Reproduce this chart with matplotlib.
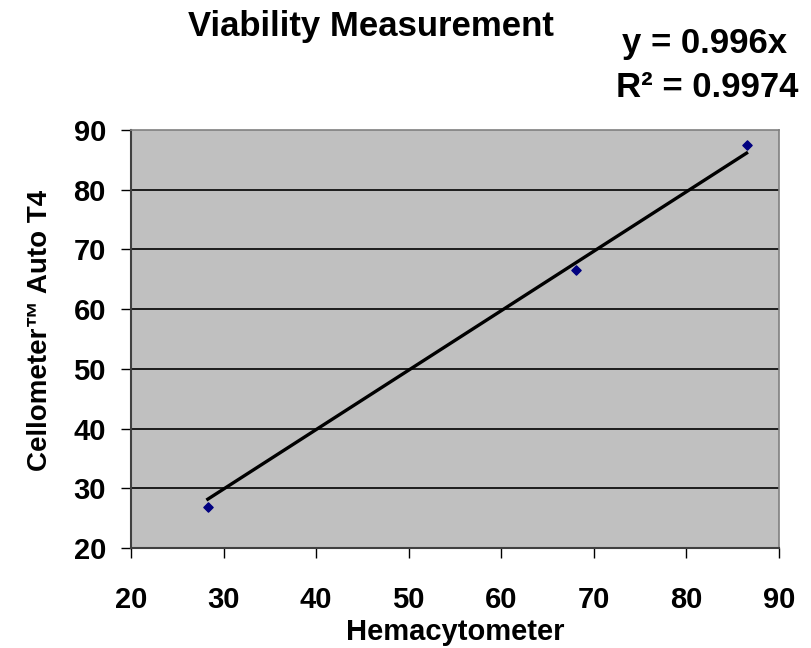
import numpy as np
import matplotlib
matplotlib.use("Agg")
import matplotlib.pyplot as plt

#%% data
hemacytometer = [28.3, 68.1, 86.5]
cellometer = [26.9, 66.6, 87.5]
x_ticks = [20, 30, 40, 50, 60, 70, 80, 90]
y_ticks = [20, 30, 40, 50, 60, 70, 80, 90]

plt.rcParams['font.family'] = ['Liberation Sans', 'DejaVu Sans']
plt.rcParams['font.weight'] = 'bold'

#%% linear trend through origin
x = np.array(hemacytometer)
y = np.array(cellometer)
slope = np.sum(x * y) / np.sum(x * x)
x_fit = np.array([x.min(), x.max()])

fig = plt.figure(figsize=(8.11, 6.48), dpi=100)
ax = fig.add_axes([0.1615, 0.1543, 0.799, 0.6451])
ax.set_facecolor('#C0C0C0')

for t in y_ticks[1:-1]:
    ax.axhline(t, color='black', lw=1.2, zorder=1)

ax.plot(x_fit, slope * x_fit, color='black', lw=2.4, zorder=2)
ax.scatter(x, y, marker='D', s=22, color='#000080', zorder=3)

ax.set_xlim(20, 90)
ax.set_ylim(20, 90)
ax.set_xticks(x_ticks)
ax.set_yticks(y_ticks)
ax.tick_params(direction='out', length=7, width=1, labelsize=21)
ax.tick_params(axis='x', pad=20)
ax.tick_params(axis='y', pad=11)
for lab in ax.get_xticklabels() + ax.get_yticklabels():
    lab.set_fontweight('bold')

for s in ['top', 'right']:
    ax.spines[s].set_color('#808080')
    ax.spines[s].set_linewidth(1.2)
for s in ['left', 'bottom']:
    ax.spines[s].set_color('#404040')
    ax.spines[s].set_linewidth(1.5)

ax.set_xlabel('Hemacytometer', fontsize=21, fontweight='bold', labelpad=3)
ax.set_ylabel('Cellometer™ Auto T4', fontsize=20, fontweight='bold')
ax.yaxis.set_label_coords(-0.12, 0.52)

fig.text(0.457, 0.944, 'Viability Measurement', fontsize=25, fontweight='bold',
         ha='center', va='baseline')
fig.text(0.869, 0.918, 'y = 0.996x', fontsize=25, fontweight='bold',
         ha='center', va='baseline')
fig.text(0.872, 0.851, 'R² = 0.9974', fontsize=25, fontweight='bold',
         ha='center', va='baseline')

fig.savefig('out.png', dpi=100)
